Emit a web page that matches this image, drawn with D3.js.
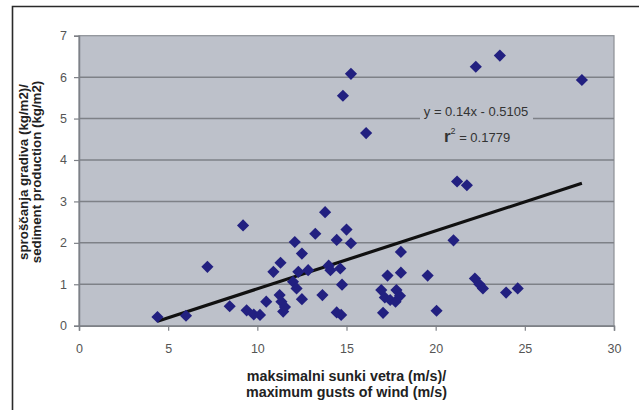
<!DOCTYPE html>
<html>
<head>
<meta charset="utf-8">
<script src="https://cdn.jsdelivr.net/npm/d3@7"></script>
<style>
  html, body { margin: 0; padding: 0; background: #ffffff; }
  svg { display: block; font-family: "Liberation Sans", Arial, sans-serif; }
</style>
</head>
<body>
<svg id="chart" width="639" height="410"></svg>
<script>
// ---- data ----
const windGust = [4.4, 6.0, 7.2, 8.45, 9.2, 9.4, 9.8, 10.15, 10.5, 10.9,
  11.3, 11.25, 11.35, 11.45, 11.55, 12.1, 12.5, 12.0, 12.2, 12.5,
  12.3, 12.85, 13.25, 13.8, 14.0, 14.1, 13.65, 14.45, 15.0, 15.25,
  14.65, 14.75, 14.45, 14.7, 15.25, 14.8, 16.1, 17.3, 18.05, 18.05,
  16.95, 17.15, 17.45, 17.75, 17.8, 18.0, 17.05, 19.55, 20.05, 21.0,
  21.2, 21.75, 22.2, 22.45, 22.65, 23.95, 24.6, 22.25, 23.6, 28.2];
const sediment = [0.21, 0.24, 1.42, 0.47, 2.42, 0.37, 0.27, 0.26, 0.58, 1.3,
  1.52, 0.74, 0.58, 0.34, 0.45, 2.02, 1.74, 1.06, 0.9, 0.64,
  1.3, 1.34, 2.22, 2.74, 1.45, 1.34, 0.74, 2.07, 2.32, 1.99,
  1.38, 0.99, 0.32, 0.26, 6.08, 5.55, 4.65, 1.21, 1.28, 1.78,
  0.86, 0.68, 0.62, 0.58, 0.86, 0.72, 0.31, 1.21, 0.36, 2.06,
  3.48, 3.39, 1.14, 1.0, 0.9, 0.8, 0.9, 6.25, 6.52, 5.93];
const xTicks = [0, 5, 10, 15, 20, 25, 30];
const yTicks = [0, 1, 2, 3, 4, 5, 6, 7];
const trendSlope = 0.14;
const trendIntercept = -0.5105;
const equationText = "y = 0.14x - 0.5105";
const r2Value = "0.1779";
const xTitle = ["maksimalni sunki vetra (m/s)/", "maximum gusts of wind (m/s)"];
const yTitle = ["sproščanja gradiva (kg/m2)/", "sediment production (kg/m2)"];

(function () {
const points = windGust.map((x, i) => ({x, y: sediment[i]}));

// ---- layout ----
const svg = d3.select("#chart");
const pL = 79, pR = 614, pT = 35.7, pB = 325.7;
const x = d3.scaleLinear().domain([0, 30]).range([pL, pR]);
const y = d3.scaleLinear().domain([0, 7]).range([pB, pT]);
const plotBg = "#bdc1ca";

// outer frame
svg.append("path")
  .attr("d", `M12.5,410 L12.5,6.5 L639,6.5`)
  .attr("fill", "none").attr("stroke", "#2a2a2a").attr("stroke-width", 1.6);

// plot area
svg.append("rect")
  .attr("x", pL).attr("y", pT)
  .attr("width", pR - pL).attr("height", pB - pT)
  .attr("fill", plotBg).attr("stroke", "#8c8f95").attr("stroke-width", 1.2);

// gridlines
svg.append("g").selectAll("line").data(yTicks.filter(d => d > 0 && d < 7)).join("line")
  .attr("x1", pL).attr("x2", pR)
  .attr("y1", d => y(d)).attr("y2", d => y(d))
  .attr("stroke", "#7e8187").attr("stroke-width", 1.5);

// axes
const xAxis = svg.append("g").attr("transform", `translate(0,${pB})`)
  .call(d3.axisBottom(x).tickValues(xTicks).tickSize(5).tickPadding(13).tickFormat(d3.format("d")));
const yAxis = svg.append("g").attr("transform", `translate(${pL},0)`)
  .call(d3.axisLeft(y).tickValues(yTicks).tickSize(5).tickPadding(7).tickFormat(d3.format("d")));
[xAxis, yAxis].forEach(g => {
  g.select(".domain").attr("stroke", "#7e8187").attr("stroke-width", 1.5);
  g.selectAll(".tick line").attr("stroke", "#7e8187").attr("stroke-width", 1.2);
  g.selectAll(".tick text").attr("fill", "#555").attr("font-size", 12.5)
    .attr("font-family", "'Liberation Sans', Arial, sans-serif");
});

// trendline
const xs = d3.extent(windGust);
svg.append("line")
  .attr("x1", x(xs[0])).attr("y1", y(trendSlope * xs[0] + trendIntercept))
  .attr("x2", x(xs[1])).attr("y2", y(trendSlope * xs[1] + trendIntercept))
  .attr("stroke", "#111").attr("stroke-width", 3.2).attr("stroke-linecap", "butt");

// points
svg.append("g").selectAll("path").data(points).join("path")
  .attr("d", d3.symbol(d3.symbolSquare, 74))
  .attr("transform", d => `translate(${x(d.x)},${y(d.y)}) rotate(45)`)
  .attr("fill", "#222080");

// equation label
const lbl = svg.append("g");
lbl.append("rect").attr("x", 420).attr("y", 99).attr("width", 113).attr("height", 46)
  .attr("fill", plotBg);
lbl.append("text").attr("x", 476).attr("y", 116).attr("text-anchor", "middle")
  .attr("font-size", 13).attr("fill", "#333").text(equationText);
const r2 = lbl.append("text").attr("x", 477).attr("y", 142).attr("text-anchor", "middle")
  .attr("font-size", 13).attr("fill", "#333");
r2.append("tspan").attr("font-size", 17).attr("font-weight", "bold").text("r");
r2.append("tspan").attr("font-size", 9).attr("dy", -8).text("2");
r2.append("tspan").attr("dy", 8).text(" = " + r2Value);

// axis titles
svg.append("g").selectAll("text").data(xTitle).join("text")
  .attr("x", (pL + pR) / 2).attr("y", (d, i) => 381 + i * 16)
  .attr("text-anchor", "middle").attr("font-size", 14.3).attr("font-weight", "bold")
  .attr("fill", "#222").text(d => d);
svg.append("g").selectAll("text").data(yTitle).join("text")
  .attr("transform", (d, i) => `translate(${28 + i * 12.5},172) rotate(-90)`)
  .attr("text-anchor", "middle").attr("font-size", 13.3).attr("font-weight", "bold")
  .attr("fill", "#222").text(d => d);
})();
</script>
</body>
</html>
